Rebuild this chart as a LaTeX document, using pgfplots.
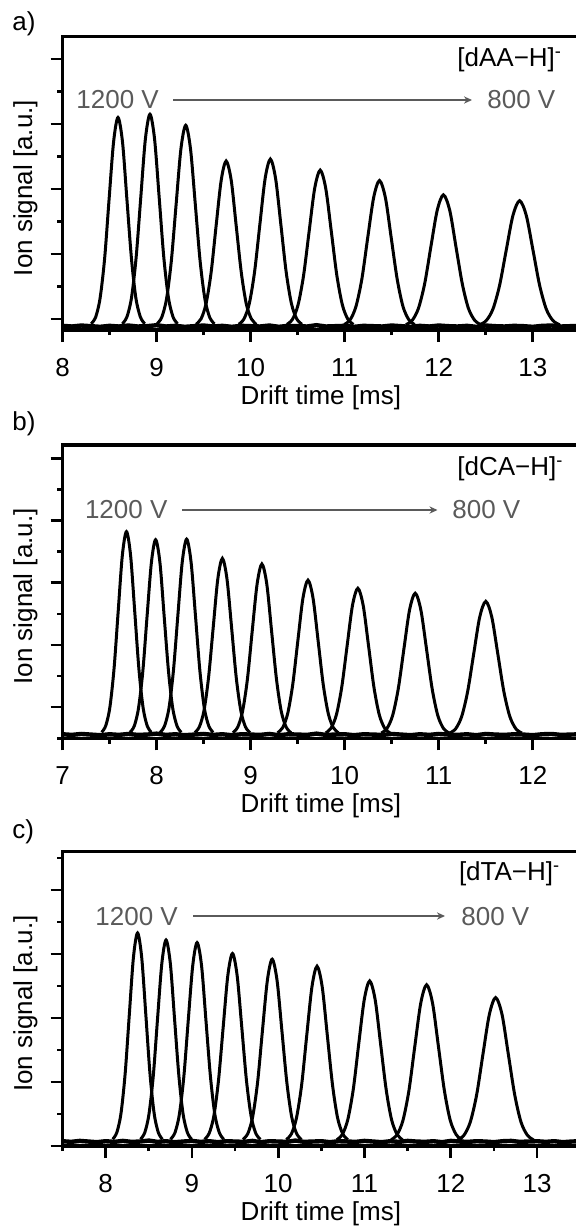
\documentclass[border=0pt]{standalone}
\usepackage{pgfplots}
\pgfplotsset{compat=1.18}
\usepackage{fontspec}
\setmainfont{Liberation Sans}
\usetikzlibrary{arrows.meta}
\definecolor{annot}{HTML}{5A5A5A}
\newcommand\fs{\fontsize{13}{15.6}\selectfont}
\pgfplotsset{
  panel/.style={
    scale only axis, width=261pt, anchor=south west,
    axis line style={line width=1.7pt},
    every tick/.style={black, line width=1.3pt},
    major tick length=6pt, minor tick length=2.6pt,
    tick align=outside, xtick pos=bottom, ytick pos=left,
    yticklabel=\empty,
    /pgf/number format/assume math mode=true,
    tick label style={font=\fs},
    xticklabel style={anchor=base, yshift=-17pt},
    label style={font=\fs},
    xlabel={Drift time [ms]},
    ylabel={Ion signal [a.u.]},
    ytick={0,1,2,3,4},
  },
  pk/.style={black, line width=1.5pt, smooth},
  bl/.style={black, line width=2.2pt},
}
\begin{document}
\begin{tikzpicture}
\useasboundingbox (0pt,0pt) rectangle (288pt,-614pt);
% ---------------- panel a ----------------
\begin{axis}[panel, at={(31.25pt,-165pt)}, height=146.65pt,
  xmin=8, xmax=13.55, ymin=-0.169, ymax=4.343,
  xtick={8,9,10,11,12,13}, minor xtick={8.5,9.5,10.5,11.5,12.5,13.5},
  minor ytick={0.5,1.5,2.5,3.5},
  xlabel style={at={(axis description cs:0.495,-0.2523)}, anchor=base},
  ylabel style={at={(axis description cs:-0.0584,0.484)}, anchor=base}]
\addplot[bl] coordinates {(8.0,-0.105) (8.1,-0.115) (8.2,-0.10) (8.3,-0.11) (8.4,-0.12) (8.5,-0.105) (8.6,-0.115) (8.7,-0.10) (8.8,-0.115) (8.9,-0.11) (9.0,-0.095) (9.1,-0.115) (9.2,-0.105) (9.3,-0.12) (9.4,-0.11) (9.5,-0.10) (9.6,-0.115) (9.7,-0.105) (9.8,-0.12) (9.9,-0.105) (10.0,-0.11) (10.1,-0.115) (10.2,-0.10) (10.3,-0.12) (10.4,-0.105) (10.5,-0.11) (10.6,-0.115) (10.7,-0.095) (10.8,-0.115) (10.9,-0.11) (11.0,-0.105) (11.1,-0.12) (11.2,-0.105) (11.3,-0.11) (11.4,-0.115) (11.5,-0.10) (11.6,-0.11) (11.7,-0.12) (11.8,-0.105) (11.9,-0.115) (12.0,-0.10) (12.1,-0.11) (12.2,-0.115) (12.3,-0.105) (12.4,-0.12) (12.5,-0.10) (12.6,-0.11) (12.7,-0.115) (12.8,-0.105) (12.9,-0.11) (13.0,-0.12) (13.1,-0.105) (13.2,-0.10) (13.3,-0.115) (13.4,-0.11) (13.5,-0.105) (13.6,-0.115)};
\addplot[pk] coordinates {(8.305,-0.074) (8.353,0.031) (8.400,0.324) (8.448,0.932) (8.495,1.837) (8.543,2.723) (8.590,3.10) (8.638,2.723) (8.685,1.837) (8.733,0.932) (8.780,0.324) (8.828,0.031) (8.875,-0.074)};
\addplot[pk] coordinates {(8.636,-0.074) (8.685,0.033) (8.734,0.331) (8.783,0.949) (8.832,1.867) (8.881,2.767) (8.930,3.15) (8.979,2.767) (9.028,1.867) (9.077,0.949) (9.126,0.331) (9.175,0.033) (9.224,-0.074)};
\addplot[pk] coordinates {(9.004,-0.076) (9.055,0.026) (9.106,0.308) (9.157,0.893) (9.208,1.764) (9.259,2.617) (9.310,2.98) (9.361,2.617) (9.412,1.764) (9.463,0.893) (9.514,0.308) (9.565,0.026) (9.616,-0.076)};
\addplot[pk] coordinates {(9.419,-0.082) (9.473,0.002) (9.526,0.234) (9.580,0.715) (9.633,1.431) (9.687,2.132) (9.740,2.43) (9.794,2.132) (9.847,1.431) (9.901,0.715) (9.954,0.234) (10.008,0.002) (10.061,-0.082)};
\addplot[pk] coordinates {(9.874,-0.081) (9.930,0.003) (9.986,0.238) (10.042,0.724) (10.098,1.449) (10.154,2.158) (10.210,2.46) (10.266,2.158) (10.322,1.449) (10.378,0.724) (10.434,0.238) (10.490,0.003) (10.546,-0.081)};
\addplot[pk] coordinates {(10.386,-0.083) (10.445,-0.005) (10.504,0.215) (10.563,0.669) (10.622,1.346) (10.681,2.008) (10.740,2.29) (10.799,2.008) (10.858,1.346) (10.917,0.669) (10.976,0.215) (11.035,-0.005) (11.094,-0.083)};
\addplot[pk] coordinates {(10.995,-0.085) (11.058,-0.012) (11.120,0.193) (11.183,0.617) (11.245,1.249) (11.308,1.867) (11.370,2.13) (11.433,1.867) (11.495,1.249) (11.558,0.617) (11.620,0.193) (11.683,-0.012) (11.745,-0.085)};
\addplot[pk] coordinates {(11.651,-0.088) (11.718,-0.021) (11.784,0.163) (11.851,0.546) (11.917,1.115) (11.984,1.673) (12.050,1.91) (12.117,1.673) (12.183,1.115) (12.250,0.546) (12.316,0.163) (12.383,-0.021) (12.449,-0.088)};
\addplot[pk] coordinates {(12.434,-0.089) (12.505,-0.025) (12.576,0.151) (12.647,0.517) (12.718,1.061) (12.789,1.593) (12.860,1.82) (12.931,1.593) (13.002,1.061) (13.073,0.517) (13.144,0.151) (13.215,-0.025) (13.286,-0.089)};
\end{axis}
% ---------------- panel b ----------------
\begin{axis}[panel, at={(31.25pt,-369.15pt)}, height=146.65pt,
  xmin=7, xmax=12.55, ymin=-0.5, ymax=4.212,
  xtick={7,8,9,10,11,12}, minor xtick={7.5,8.5,9.5,10.5,11.5,12.5},
  minor ytick={-0.5,0.5,1.5,2.5,3.5},
  xlabel style={at={(axis description cs:0.495,-0.2523)}, anchor=base},
  ylabel style={at={(axis description cs:-0.0584,0.484)}, anchor=base}]
\addplot[bl] coordinates {(7.0,-0.435) (7.1,-0.445) (7.2,-0.43) (7.3,-0.44) (7.4,-0.45) (7.5,-0.435) (7.6,-0.445) (7.7,-0.43) (7.8,-0.445) (7.9,-0.44) (8.0,-0.425) (8.1,-0.445) (8.2,-0.435) (8.3,-0.45) (8.4,-0.44) (8.5,-0.43) (8.6,-0.445) (8.7,-0.435) (8.8,-0.45) (8.9,-0.435) (9.0,-0.44) (9.1,-0.445) (9.2,-0.43) (9.3,-0.45) (9.4,-0.435) (9.5,-0.44) (9.6,-0.445) (9.7,-0.425) (9.8,-0.445) (9.9,-0.44) (10.0,-0.435) (10.1,-0.45) (10.2,-0.435) (10.3,-0.44) (10.4,-0.445) (10.5,-0.43) (10.6,-0.44) (10.7,-0.45) (10.8,-0.435) (10.9,-0.445) (11.0,-0.43) (11.1,-0.44) (11.2,-0.445) (11.3,-0.435) (11.4,-0.45) (11.5,-0.43) (11.6,-0.44) (11.7,-0.445) (11.8,-0.435) (11.9,-0.44) (12.0,-0.45) (12.1,-0.435) (12.2,-0.43) (12.3,-0.445) (12.4,-0.44) (12.5,-0.435) (12.6,-0.445)};
\addplot[pk] coordinates {(7.416,-0.404) (7.460,-0.297) (7.504,0.001) (7.548,0.619) (7.592,1.537) (7.636,2.437) (7.680,2.82) (7.724,2.437) (7.768,1.537) (7.812,0.619) (7.856,0.001) (7.900,-0.297) (7.944,-0.404)};
\addplot[pk] coordinates {(7.717,-0.405) (7.763,-0.303) (7.808,-0.017) (7.854,0.576) (7.899,1.458) (7.945,2.322) (7.990,2.69) (8.036,2.322) (8.081,1.458) (8.127,0.576) (8.172,-0.017) (8.218,-0.303) (8.263,-0.405)};
\addplot[pk] coordinates {(8.038,-0.405) (8.085,-0.302) (8.132,-0.015) (8.179,0.580) (8.226,1.464) (8.273,2.331) (8.320,2.70) (8.367,2.331) (8.414,1.464) (8.461,0.580) (8.508,-0.015) (8.555,-0.302) (8.602,-0.405)};
\addplot[pk] coordinates {(8.406,-0.409) (8.455,-0.316) (8.504,-0.057) (8.553,0.479) (8.602,1.276) (8.651,2.057) (8.700,2.39) (8.749,2.057) (8.798,1.276) (8.847,0.479) (8.896,-0.057) (8.945,-0.316) (8.994,-0.409)};
\addplot[pk] coordinates {(8.811,-0.410) (8.863,-0.320) (8.914,-0.069) (8.966,0.450) (9.017,1.222) (9.069,1.978) (9.120,2.30) (9.172,1.978) (9.223,1.222) (9.275,0.450) (9.326,-0.069) (9.378,-0.320) (9.429,-0.410)};
\addplot[pk] coordinates {(9.286,-0.412) (9.340,-0.331) (9.394,-0.104) (9.448,0.365) (9.502,1.064) (9.556,1.749) (9.610,2.04) (9.664,1.749) (9.718,1.064) (9.772,0.365) (9.826,-0.104) (9.880,-0.331) (9.934,-0.412)};
\addplot[pk] coordinates {(9.798,-0.414) (9.855,-0.337) (9.912,-0.122) (9.969,0.323) (10.026,0.985) (10.083,1.634) (10.140,1.91) (10.197,1.634) (10.254,0.985) (10.311,0.323) (10.368,-0.122) (10.425,-0.337) (10.482,-0.414)};
\addplot[pk] coordinates {(10.39,-0.415) (10.45,-0.340) (10.51,-0.133) (10.57,0.297) (10.63,0.937) (10.69,1.563) (10.75,1.83) (10.81,1.563) (10.87,0.937) (10.93,0.297) (10.99,-0.133) (11.05,-0.340) (11.11,-0.415)};
\addplot[pk] coordinates {(11.116,-0.416) (11.180,-0.346) (11.244,-0.150) (11.308,0.255) (11.372,0.858) (11.436,1.449) (11.500,1.70) (11.564,1.449) (11.628,0.858) (11.692,0.255) (11.756,-0.150) (11.820,-0.346) (11.884,-0.416)};
\end{axis}
% ---------------- panel c ----------------
\begin{axis}[panel, at={(31.25pt,-573pt)}, height=147.15pt,
  xmin=7.5, xmax=13.55, ymin=0, ymax=4.6,
  xtick={8,9,10,11,12,13}, minor xtick={7.5,8.5,9.5,10.5,11.5,12.5,13.5},
  minor ytick={0.5,1.5,2.5,3.5,4.5},
  xlabel style={at={(axis description cs:0.495,-0.2514)}, anchor=base},
  ylabel style={at={(axis description cs:-0.0584,0.484)}, anchor=base}]
\addplot[bl] coordinates {(7.5,0.075) (7.6,0.065) (7.7,0.08) (7.8,0.07) (7.9,0.06) (8.0,0.075) (8.1,0.065) (8.2,0.08) (8.3,0.065) (8.4,0.07) (8.5,0.085) (8.6,0.065) (8.7,0.075) (8.8,0.06) (8.9,0.07) (9.0,0.08) (9.1,0.065) (9.2,0.075) (9.3,0.06) (9.4,0.075) (9.5,0.07) (9.6,0.065) (9.7,0.08) (9.8,0.06) (9.9,0.075) (10.0,0.07) (10.1,0.065) (10.2,0.085) (10.3,0.065) (10.4,0.07) (10.5,0.075) (10.6,0.06) (10.7,0.075) (10.8,0.07) (10.9,0.065) (11.0,0.08) (11.1,0.07) (11.2,0.06) (11.3,0.075) (11.4,0.065) (11.5,0.08) (11.6,0.07) (11.7,0.065) (11.8,0.075) (11.9,0.06) (12.0,0.08) (12.1,0.07) (12.2,0.065) (12.3,0.075) (12.4,0.07) (12.5,0.06) (12.6,0.075) (12.7,0.08) (12.8,0.065) (12.9,0.07) (13.0,0.075) (13.1,0.065) (13.2,0.075) (13.3,0.06) (13.4,0.07) (13.5,0.075) (13.6,0.065)};
\addplot[pk] coordinates {(8.082,0.106) (8.130,0.213) (8.178,0.511) (8.226,1.129) (8.274,2.047) (8.322,2.947) (8.370,3.33) (8.418,2.947) (8.466,2.047) (8.514,1.129) (8.562,0.511) (8.610,0.213) (8.658,0.106)};
\addplot[pk] coordinates {(8.403,0.105) (8.453,0.208) (8.502,0.496) (8.552,1.093) (8.601,1.980) (8.651,2.850) (8.700,3.22) (8.750,2.850) (8.799,1.980) (8.849,1.093) (8.898,0.496) (8.948,0.208) (8.997,0.105)};
\addplot[pk] coordinates {(8.751,0.105) (8.803,0.207) (8.854,0.491) (8.906,1.080) (8.957,1.956) (9.009,2.815) (9.060,3.18) (9.112,2.815) (9.163,1.956) (9.215,1.080) (9.266,0.491) (9.318,0.207) (9.369,0.105)};
\addplot[pk] coordinates {(9.146,0.103) (9.200,0.199) (9.254,0.468) (9.308,1.025) (9.362,1.853) (9.416,2.665) (9.470,3.01) (9.524,2.665) (9.578,1.853) (9.632,1.025) (9.686,0.468) (9.740,0.199) (9.794,0.103)};
\addplot[pk] coordinates {(9.591,0.102) (9.648,0.195) (9.704,0.456) (9.761,0.995) (9.817,1.799) (9.874,2.585) (9.930,2.92) (9.987,2.585) (10.043,1.799) (10.100,0.995) (10.156,0.456) (10.213,0.195) (10.269,0.102)};
\addplot[pk] coordinates {(10.093,0.100) (10.153,0.190) (10.212,0.441) (10.272,0.960) (10.331,1.732) (10.391,2.488) (10.450,2.81) (10.510,2.488) (10.569,1.732) (10.629,0.960) (10.688,0.441) (10.748,0.190) (10.807,0.100)};
\addplot[pk] coordinates {(10.679,0.098) (10.743,0.180) (10.806,0.410) (10.870,0.885) (10.933,1.592) (10.997,2.285) (11.060,2.58) (11.124,2.285) (11.187,1.592) (11.251,0.885) (11.314,0.410) (11.378,0.180) (11.441,0.098)};
\addplot[pk] coordinates {(11.309,0.097) (11.378,0.178) (11.446,0.401) (11.515,0.866) (11.583,1.556) (11.652,2.232) (11.720,2.52) (11.789,2.232) (11.857,1.556) (11.926,0.866) (11.994,0.401) (12.063,0.178) (12.131,0.097)};
\addplot[pk] coordinates {(12.079,0.095) (12.153,0.169) (12.226,0.374) (12.300,0.801) (12.373,1.435) (12.447,2.056) (12.520,2.32) (12.594,2.056) (12.667,1.435) (12.741,0.801) (12.814,0.374) (12.888,0.169) (12.961,0.095)};
\end{axis}
% ---------------- annotations ----------------
\node[anchor=base west, inner sep=0, font=\fs] at (6pt,-15pt) {a)};
\node[anchor=base west, inner sep=0, font=\fs] at (6pt,-215pt) {b)};
\node[anchor=base west, inner sep=0, font=\fs] at (6pt,-419pt) {c)};
\node[anchor=base west, inner sep=0, font=\fs] at (228.5pt,-33pt) {[dAA−H]\textsuperscript{-}};
\node[anchor=base west, inner sep=0, font=\fs] at (228.5pt,-237.5pt) {[dCA−H]\textsuperscript{-}};
\node[anchor=base west, inner sep=0, font=\fs] at (229.3pt,-440pt) {[dTA−H]\textsuperscript{-}};
\node[anchor=base west, inner sep=0, font=\fs, text=annot] at (38pt,-54pt) {1200 V};
\node[anchor=base west, inner sep=0, font=\fs, text=annot] at (243.5pt,-54pt) {800 V};
\node[anchor=base west, inner sep=0, font=\fs, text=annot] at (42.3pt,-259.2pt) {1200 V};
\node[anchor=base west, inner sep=0, font=\fs, text=annot] at (226pt,-259.2pt) {800 V};
\node[anchor=base west, inner sep=0, font=\fs, text=annot] at (47.5pt,-462.5pt) {1200 V};
\node[anchor=base west, inner sep=0, font=\fs, text=annot] at (230.5pt,-462.5pt) {800 V};
\draw[annot, line width=0.9pt, -{Stealth[length=4pt,width=3.6pt]}] (86.5pt,-50pt) -- (236pt,-50pt);
\draw[annot, line width=0.9pt, -{Stealth[length=4pt,width=3.6pt]}] (91pt,-255pt) -- (218.75pt,-255pt);
\draw[annot, line width=0.9pt, -{Stealth[length=4pt,width=3.6pt]}] (96.5pt,-458pt) -- (222.5pt,-458pt);
\end{tikzpicture}
\end{document}
